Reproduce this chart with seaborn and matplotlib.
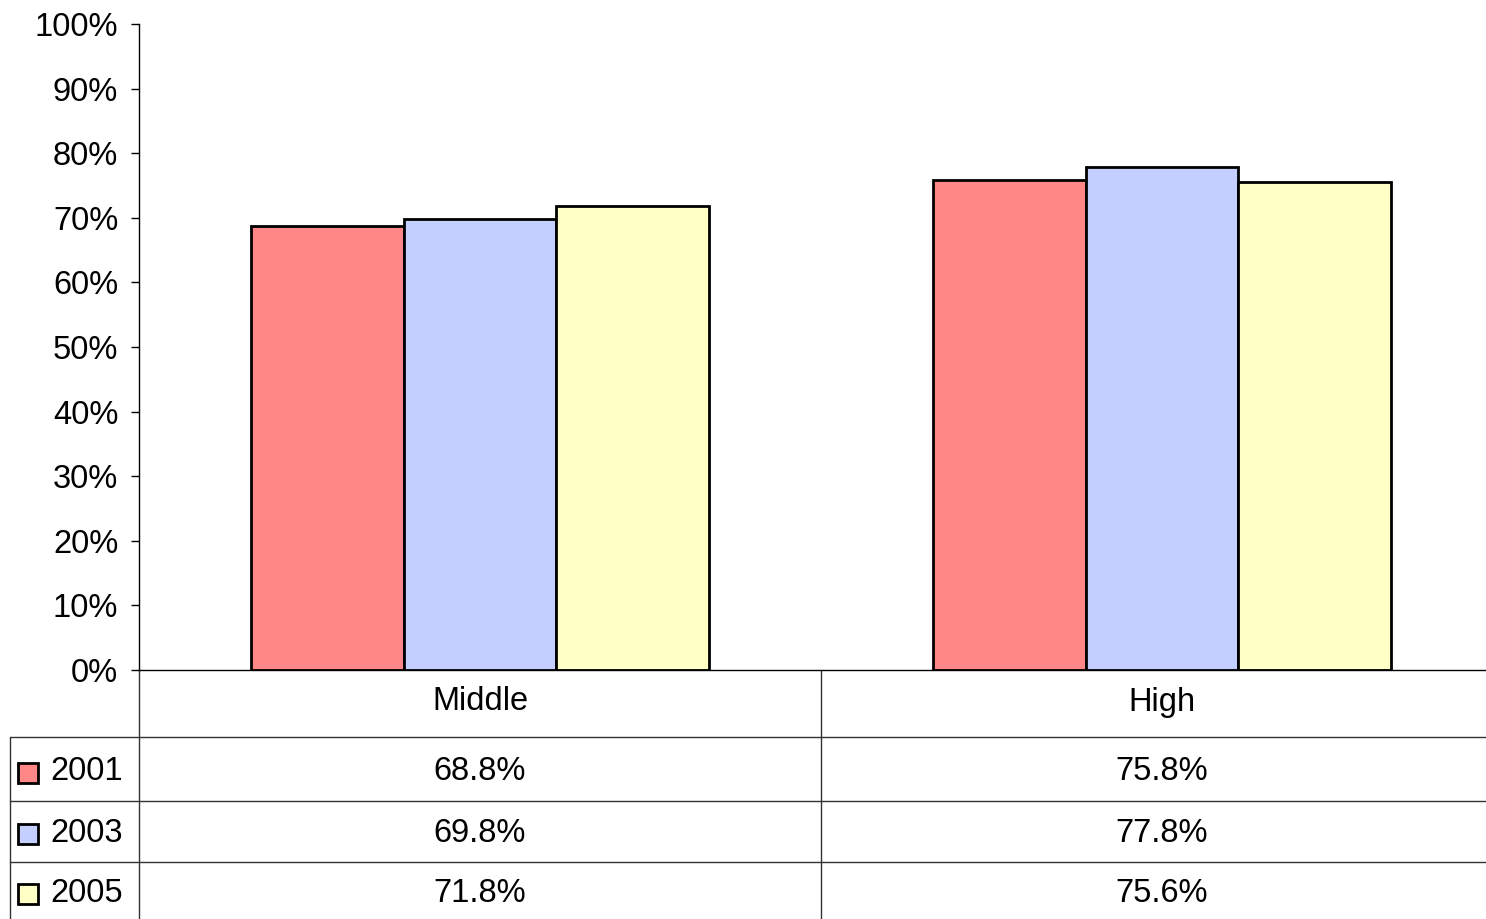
import pandas as pd
import seaborn as sns
import matplotlib.pyplot as plt
from matplotlib.ticker import PercentFormatter, MultipleLocator

sns.set_style("white")
plt.rcParams["font.family"] = ["Liberation Sans", "DejaVu Sans"]
plt.rcParams["text.color"] = "black"

levels = ["Middle", "High"]
years = ["2001", "2003", "2005"]
vals_2001 = [0.688, 0.758]
vals_2003 = [0.698, 0.778]
vals_2005 = [0.718, 0.756]
colors = ["#FF8787", "#C4CFFF", "#FFFFC6"]

series = {"2001": vals_2001, "2003": vals_2003, "2005": vals_2005}
rows = []
for yr in years:
    for lv, v in zip(levels, series[yr]):
        rows.append({"level": lv, "year": yr, "value": v})
df = pd.DataFrame(rows)

W, H = 1486, 919
fig = plt.figure(figsize=(W / 100, H / 100), dpi=100)
# plot area (pixel measurements of the reference); right edge runs past the image
left, right, top, bottom = 139, 1503, 24, 670
ax = fig.add_axes([left / W, 1 - bottom / H, (right - left) / W, (bottom - top) / H])

sns.barplot(data=df, x="level", y="value", hue="year", order=levels, hue_order=years,
            palette=colors, saturation=1, width=0.673, edgecolor="black",
            linewidth=2, legend=False, ax=ax)

ax.set_xlim(-0.5, 1.5)
ax.set_ylim(0, 1)
ax.yaxis.set_major_locator(MultipleLocator(0.1))
ax.yaxis.set_major_formatter(PercentFormatter(1.0, decimals=0))
ax.set_xticks([])
ax.set_xlabel("")
ax.set_ylabel("")
ax.tick_params(axis="y", direction="out", length=6, width=1, pad=9, labelsize=23.5,
               left=True, colors="black")
for s in ["top", "right"]:
    ax.spines[s].set_visible(False)
for s in ["left", "bottom"]:
    ax.spines[s].set_color("black")
    ax.spines[s].set_linewidth(1)

# data table below the axis (data units: 682 px per category, 646 px per 100%)
px_x = 1 / 682
px_y = 1 / 646
def yv(py):
    return -(py - bottom) * px_y

x_far = -0.5 - (left - 10) * px_x
lc = "#333333"
kw = dict(color=lc, lw=1, clip_on=False)
ax.plot([x_far, 1.5], [yv(737)] * 2, **kw)
ax.plot([x_far, 1.5], [yv(801)] * 2, **kw)
ax.plot([x_far, 1.5], [yv(862)] * 2, **kw)
ax.plot([x_far, x_far], [yv(737), yv(919)], **kw)
ax.plot([-0.5, -0.5], [0, yv(919)], **kw)
ax.plot([0.5, 0.5], [0, yv(919)], **kw)

fs = 23.5
for i, lv in enumerate(levels):
    ax.text(i, yv(702), lv, ha="center", va="center", fontsize=fs, clip_on=False)

row_y = [772, 833, 893]
x_mark = -0.5 - (left - 28) * px_x
x_lab = -0.5 - (left - 50) * px_x
for yr, c, ry in zip(years, colors, row_y):
    ax.plot([x_mark], [yv(ry + 1)], marker="s", markersize=14, markerfacecolor=c,
            markeredgecolor="black", markeredgewidth=2, clip_on=False)
    ax.text(x_lab, yv(ry), yr, ha="left", va="center", fontsize=fs, clip_on=False)
    for i, v in enumerate(series[yr]):
        ax.text(i, yv(ry), f"{v * 100:.1f}%", ha="center", va="center",
                fontsize=fs, clip_on=False)

plt.savefig("out.png", dpi=100)
